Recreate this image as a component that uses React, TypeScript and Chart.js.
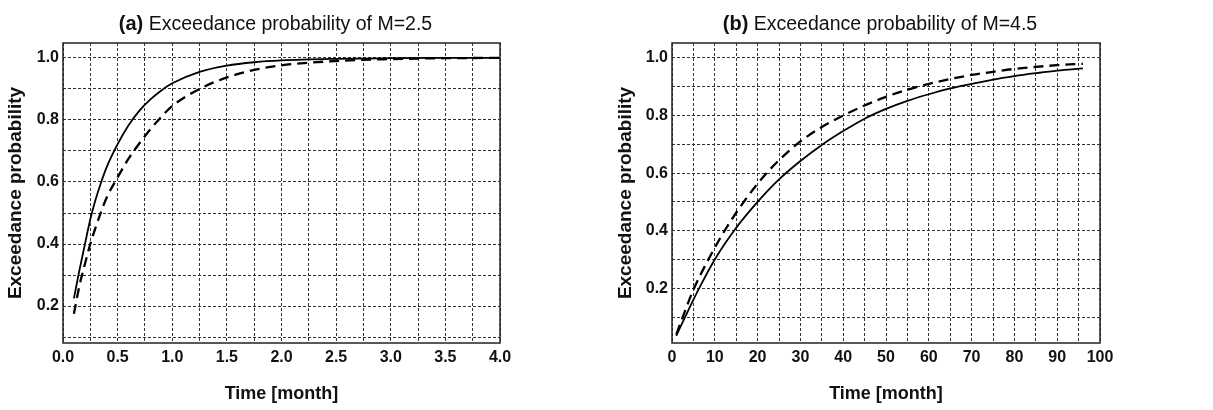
import React, { useEffect, useRef } from "react";
import { Chart, registerables } from "chart.js";

Chart.register(...registerables);

const FAMILY = "'Liberation Sans', Arial, Helvetica, sans-serif";

// ---- Panel (a): M=2.5 ----
const titleTagA = "(a)";
const titleTextA = " Exceedance probability of M=2.5";
const monthsASolid = [0.1, 0.15, 0.2, 0.25, 0.3, 0.35, 0.4, 0.5, 0.6, 0.7, 0.8, 0.9, 1.0, 1.25, 1.5, 1.75, 2.0, 2.5, 3.0, 3.5, 4.0];
const probASolid = [0.225, 0.315, 0.398, 0.48, 0.545, 0.6, 0.648, 0.722, 0.783, 0.83, 0.866, 0.895, 0.918, 0.955, 0.975, 0.986, 0.992, 0.997, 0.999, 1.0, 1.0];
const monthsADashed = [0.1, 0.15, 0.2, 0.25, 0.3, 0.35, 0.4, 0.5, 0.6, 0.7, 0.8, 0.9, 1.0, 1.25, 1.5, 1.75, 2.0, 2.5, 3.0, 3.5, 4.0];
const probADashed = [0.175, 0.265, 0.335, 0.4, 0.455, 0.505, 0.55, 0.615, 0.675, 0.725, 0.77, 0.81, 0.845, 0.9, 0.937, 0.961, 0.976, 0.99, 0.996, 0.999, 1.0];

// ---- Panel (b): M=4.5 ----
const titleTagB = "(b)";
const titleTextB = " Exceedance probability of M=4.5";
const monthsBSolid = [1, 3, 6, 10, 15, 20, 25, 30, 35, 40, 45, 50, 55, 60, 65, 70, 75, 80, 85, 90, 96];
const probBSolid = [0.035, 0.098, 0.19, 0.3, 0.41, 0.5, 0.578, 0.642, 0.698, 0.746, 0.789, 0.823, 0.851, 0.874, 0.894, 0.91, 0.925, 0.937, 0.947, 0.956, 0.964];
const monthsBDashed = [1, 2.5, 5, 8.5, 12.5, 17, 21.5, 25, 30, 35, 40, 45, 50, 55, 60, 65, 70, 75, 80, 85, 90, 96];
const probBDashed = [0.04, 0.1, 0.195, 0.3, 0.405, 0.505, 0.59, 0.645, 0.71, 0.76, 0.8, 0.835, 0.865, 0.89, 0.91, 0.927, 0.941, 0.952, 0.962, 0.969, 0.975, 0.98];

const xTitle = "Time [month]";
const yTitle = "Exceedance probability";

const zip = (xs: number[], ys: number[]) => xs.map((x, i) => ({ x, y: ys[i] }));

const framePlugin = {
  id: "frame",
  afterDraw(chart: any, _args: any, opts: any) {
    const { ctx, chartArea: a } = chart;
    ctx.save();
    ctx.setLineDash([]);
    ctx.strokeStyle = "#222";
    ctx.lineWidth = 1.5;
    ctx.strokeRect(a.left, a.top, a.right - a.left, a.bottom - a.top);
    const boldFont = "bold 20px " + FAMILY;
    const regFont = "19.5px " + FAMILY;
    ctx.fillStyle = "#111";
    ctx.textBaseline = "alphabetic";
    ctx.textAlign = "left";
    ctx.font = boldFont;
    const w1 = ctx.measureText(opts.tag).width;
    ctx.font = regFont;
    const w2 = ctx.measureText(opts.text).width;
    const cx = (a.left + a.right) / 2 - 6;
    const x0 = cx - (w1 + w2) / 2;
    ctx.font = boldFont;
    ctx.fillText(opts.tag, x0, 30);
    ctx.font = regFont;
    ctx.fillText(opts.text, x0 + w1, 30);
    ctx.restore();
  },
};

type PanelProps = {
  width: number;
  left: number;
  yAxisWidth: number;
  rightPad: number;
  yTitlePad: number;
  xMin: number;
  xMax: number;
  xStep: number;
  xLabelEvery: number;
  xDecimals: number;
  yMin: number;
  yMax: number;
  tag: string;
  text: string;
  solid: { x: number; y: number }[];
  dashed: { x: number; y: number }[];
};

function Panel(p: PanelProps) {
  const ref = useRef<HTMLCanvasElement | null>(null);
  useEffect(() => {
    if (!ref.current) return;
    const gridCfg = {
      color: "#333",
      lineWidth: 1,
      drawTicks: false,
    };
    const borderCfg = { display: false, dash: [3, 2] };
    const chart = new Chart(ref.current, {
      type: "line",
      data: {
        datasets: [
          {
            data: p.solid,
            borderColor: "#000",
            borderWidth: 1.8,
            pointRadius: 0,
            cubicInterpolationMode: "monotone",
            fill: false,
          },
          {
            data: p.dashed,
            borderColor: "#000",
            borderWidth: 2.3,
            borderDash: [10, 6],
            pointRadius: 0,
            cubicInterpolationMode: "monotone",
            fill: false,
          },
        ],
      },
      options: {
        responsive: false,
        animation: false,
        layout: { padding: { left: 0, top: 43, right: p.rightPad, bottom: 0 } },
        plugins: {
          legend: { display: false },
          tooltip: { enabled: false },
          frame: { tag: p.tag, text: p.text },
        } as any,
        scales: {
          x: {
            type: "linear",
            min: p.xMin,
            max: p.xMax,
            grid: gridCfg as any,
            border: borderCfg as any,
            ticks: {
              stepSize: p.xStep,
              includeBounds: false,
              padding: 5,
              maxRotation: 0,
              autoSkip: false,
              color: "#111",
              font: { family: FAMILY, size: 16, weight: "bold" },
              callback: (v: any) => {
                const n = Number(v);
                const k = Math.round(n / p.xStep);
                return k % p.xLabelEvery === 0 ? n.toFixed(p.xDecimals) : "";
              },
            },
            title: {
              display: true,
              text: xTitle,
              color: "#111",
              font: { family: FAMILY, size: 18, weight: "bold" },
              padding: { top: 0, bottom: 5 },
            },
            afterFit: (s: any) => {
              s.height = 67;
            },
          },
          y: {
            type: "linear",
            min: p.yMin,
            max: p.yMax,
            grid: gridCfg as any,
            border: borderCfg as any,
            ticks: {
              stepSize: 0.1,
              includeBounds: false,
              padding: 4,
              autoSkip: false,
              color: "#111",
              font: { family: FAMILY, size: 16, weight: "bold" },
              callback: (v: any) => {
                const n = Number(v);
                const k = Math.round(n * 10);
                return k % 2 === 0 ? n.toFixed(1) : "";
              },
            },
            title: {
              display: true,
              text: yTitle,
              color: "#111",
              font: { family: FAMILY, size: 19, weight: "bold" },
              padding: { top: p.yTitlePad, bottom: 0 },
            },
            afterFit: (s: any) => {
              s.width = p.yAxisWidth;
            },
          },
        },
      } as any,
      plugins: [framePlugin as any],
    });
    return () => chart.destroy();
  }, []);
  return (
    <canvas
      ref={ref}
      width={p.width}
      height={410}
      style={{ position: "absolute", left: p.left, top: 0, width: p.width, height: 410 }}
    />
  );
}

export default function App() {
  return (
    <div
      style={{
        position: "fixed",
        left: 0,
        top: 0,
        width: 1213,
        height: 410,
        background: "#fff",
        overflow: "hidden",
      }}
    >
      <Panel
        width={600}
        left={0}
        yAxisWidth={63}
        rightPad={100}
        yTitlePad={4}
        xMin={0}
        xMax={4}
        xStep={0.25}
        xLabelEvery={2}
        xDecimals={1}
        yMin={0.081}
        yMax={1.048}
        tag={titleTagA}
        text={titleTextA}
        solid={zip(monthsASolid, probASolid)}
        dashed={zip(monthsADashed, probADashed)}
      />
      <Panel
        width={613}
        left={600}
        yAxisWidth={72}
        rightPad={113}
        yTitlePad={14}
        xMin={0}
        xMax={100}
        xStep={5}
        xLabelEvery={2}
        xDecimals={0}
        yMin={0.01}
        yMax={1.052}
        tag={titleTagB}
        text={titleTextB}
        solid={zip(monthsBSolid, probBSolid)}
        dashed={zip(monthsBDashed, probBDashed)}
      />
    </div>
  );
}
